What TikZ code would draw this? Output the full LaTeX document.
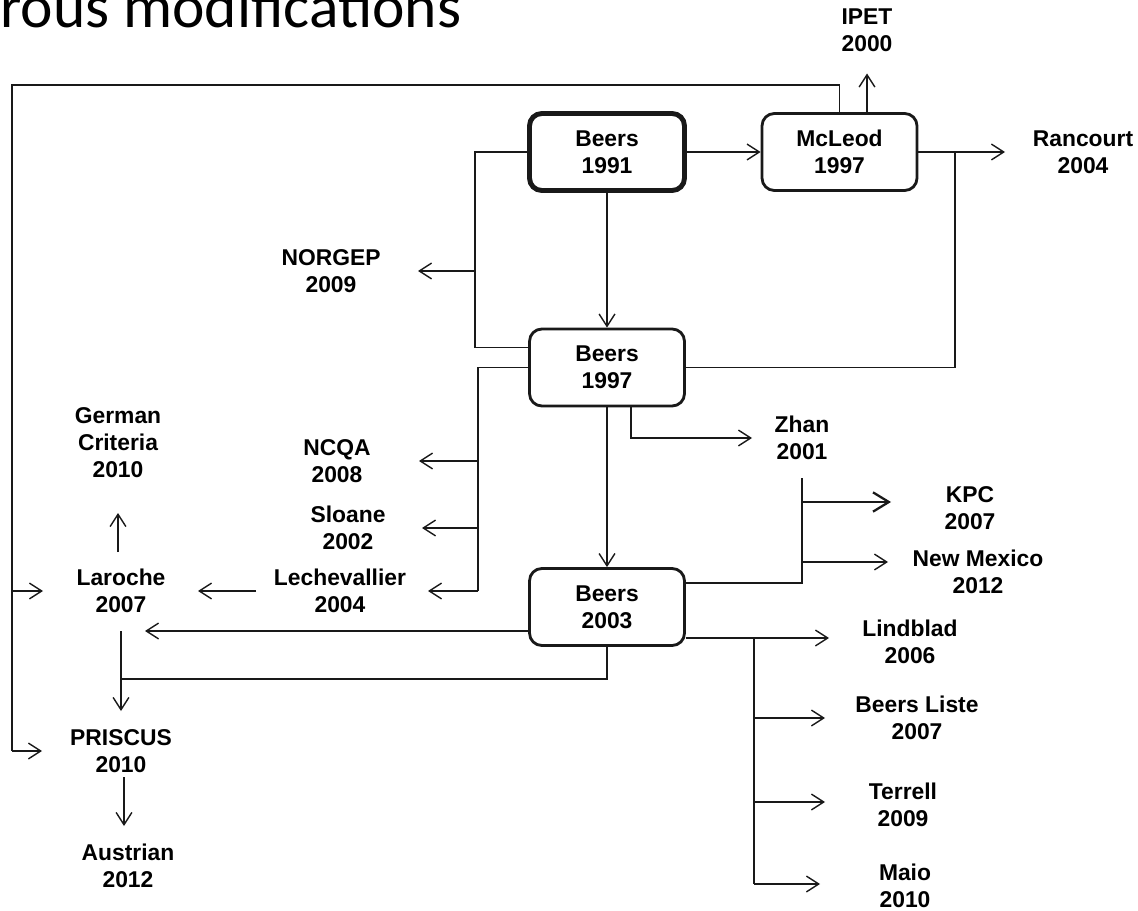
\documentclass[tikz,border=0pt]{standalone}
\usepackage{fontspec}
\setmainfont{Liberation Sans}
\newfontfamily\titlefont{Carlito}
\usetikzlibrary{arrows.meta,calc}

\begin{document}
\begin{tikzpicture}[x=0.02cm,y=-0.02cm,>={Straight Barb[length=7pt,width=9pt]}]
  \tikzstyle{box}=[rectangle,rounded corners=7pt,draw=black!90,line width=1.6pt,minimum width=3.1cm,minimum height=1.54cm,inner sep=0pt,align=center,font=\fontsize{13}{15.3}\selectfont\bfseries]
  \tikzstyle{lbl}=[inner sep=0pt,align=center,font=\fontsize{13}{15.3}\selectfont\bfseries]
  \tikzstyle{link}=[line width=0.8pt,draw=black!90]

  \useasboundingbox (0,0) rectangle (1138,911);

  \node[anchor=base west,inner sep=0pt,font=\titlefont\fontsize{35}{40}\selectfont] (title) at (0,27.5) {rous modifications};

  % the four boxes
  \node[box,line width=2.8pt] (b91) at (607,152) {Beers\\1991};
  \node[box] (mcl) at (839.5,152) {McLeod\\1997};
  \node[box] (b97) at (607,367.5) {Beers\\1997};
  \node[box] (b03) at (607,607) {Beers\\2003};

  % plain labels
  \node[lbl] (ipet) at (867,30.5) {IPET\\2000};
  \node[lbl] (rancourt) at (1083,152) {Rancourt\\2004};
  \node[lbl] (norgep) at (331,271) {NORGEP\\2009};
  \node[lbl] (zhan) at (802,438) {Zhan\\2001};
  \node[lbl] (kpc) at (970,508) {KPC\\2007};
  \node[lbl] (newmex) at (978,572) {New Mexico\\2012};
  \node[lbl] (lindblad) at (910,642) {Lindblad\\2006};
  \node[lbl] (liste) at (917,718) {Beers Liste\\2007};
  \node[lbl] (terrell) at (903,805) {Terrell\\2009};
  \node[lbl] (maio) at (905,886) {Maio\\2010};
  \node[lbl] (german) at (118,443) {German\\Criteria\\2010};
  \node[lbl] (ncqa) at (337,461) {NCQA\\2008};
  \node[lbl] (sloane) at (348,528) {Sloane\\2002};
  \node[lbl] (lechev) at (340,591) {Lechevallier\\2004};
  \node[lbl] (laroche) at (121,591) {Laroche\\2007};
  \node[lbl] (priscus) at (121,751) {PRISCUS\\2010};
  \node[lbl] (austrian) at (128,866) {Austrian\\2012};

  % junction points
  \coordinate (jn) at (475,271);
  \coordinate (lt) at (12,85);
  \coordinate (lm) at (12,591);
  \coordinate (lb) at (12,751);
  \coordinate (jr) at (955,152);
  \coordinate (jl) at (478,591);
  \coordinate (jq) at (478,461);
  \coordinate (js) at (478,528);
  \coordinate (jp) at (121,679);
  \coordinate (jk) at (802,502);
  \coordinate (jm) at (802,562);
  \coordinate (jl1) at (754,638);
  \coordinate (jl2) at (754,718);
  \coordinate (jl3) at (754,802);
  \coordinate (jl4) at (754,884);

  \path[->,link]
  (b91) edge (mcl)
  (b91) edge (b97)
  (b97) edge (b03);

  % Beers 1991
  \draw[link] (b91.west) -| (jn) |- ($(b97.west)+(0,-20)$);
  \draw[->,link] (jn) -- ($(norgep)+(87,0)$);

  % McLeod 1997
  \draw[link] (mcl.north) |- (lt) -- (lb);
  \draw[->,link] (lm) -- ($(laroche)+(-78,0)$);
  \draw[->,link] (lb) -- ($(priscus)+(-79,0)$);
  \draw[->,link] (mcl.north -| ipet) -- ($(ipet)+(0,43)$);
  \draw[->,link] (mcl.east) -- ($(rancourt)+(-78,0)$);
  \draw[link] (jr) |- (b97.east);

  % Beers 1997
  \draw[link] (b97.west) -| (jl);
  \draw[->,link] (jl) -- ($(lechev)+(88,0)$);
  \draw[->,link] (jq) -- ($(ncqa)+(82,0)$);
  \draw[->,link] (js) -- ($(sloane)+(74,0)$);
  \draw[->,link] ($(b97.south)+(24,0)$) |- ($(zhan)+(-50,0)$);
  \draw[->,link] ($(lechev)+(-84,0)$) -- ($(laroche)+(77,0)$);
  \draw[->,link] ($(laroche)+(-3,-39)$) -- ($(german)+(0,70)$);

  % Beers 2003
  \draw[->,link] ($(b03.west)+(0,24)$) -- ($(laroche)+(24,40)$);
  \draw[->,link] ($(laroche)+(0,40)$) -- ($(priscus)+(0,-40)$);
  \draw[link] (b03.south) |- (jp);
  \draw[->,link] ($(priscus)+(3,26)$) -- ($(austrian)+(-4,-40)$);
  \draw[link] ($(b03.east)+(0,-24)$) -| ($(zhan)+(0,40)$);
  \draw[->,link,line width=1.3pt,>={Straight Barb[length=9pt,width=11pt]}] (jk) -- ($(kpc)+(-79,-6)$);
  \draw[->,link] (jm) -- ($(newmex)+(-90,-10)$);
  \draw[->,link] ($(b03.east)+(0,31)$) -- ($(lindblad)+(-81,-4)$);
  \draw[link] (jl1) -- (jl4);
  \draw[->,link] (jl2) -- ($(liste)+(-92,0)$);
  \draw[->,link] (jl3) -- ($(terrell)+(-78,-3)$);
  \draw[->,link] (jl4) -- ($(maio)+(-85,-2)$);
\end{tikzpicture}
\end{document}
